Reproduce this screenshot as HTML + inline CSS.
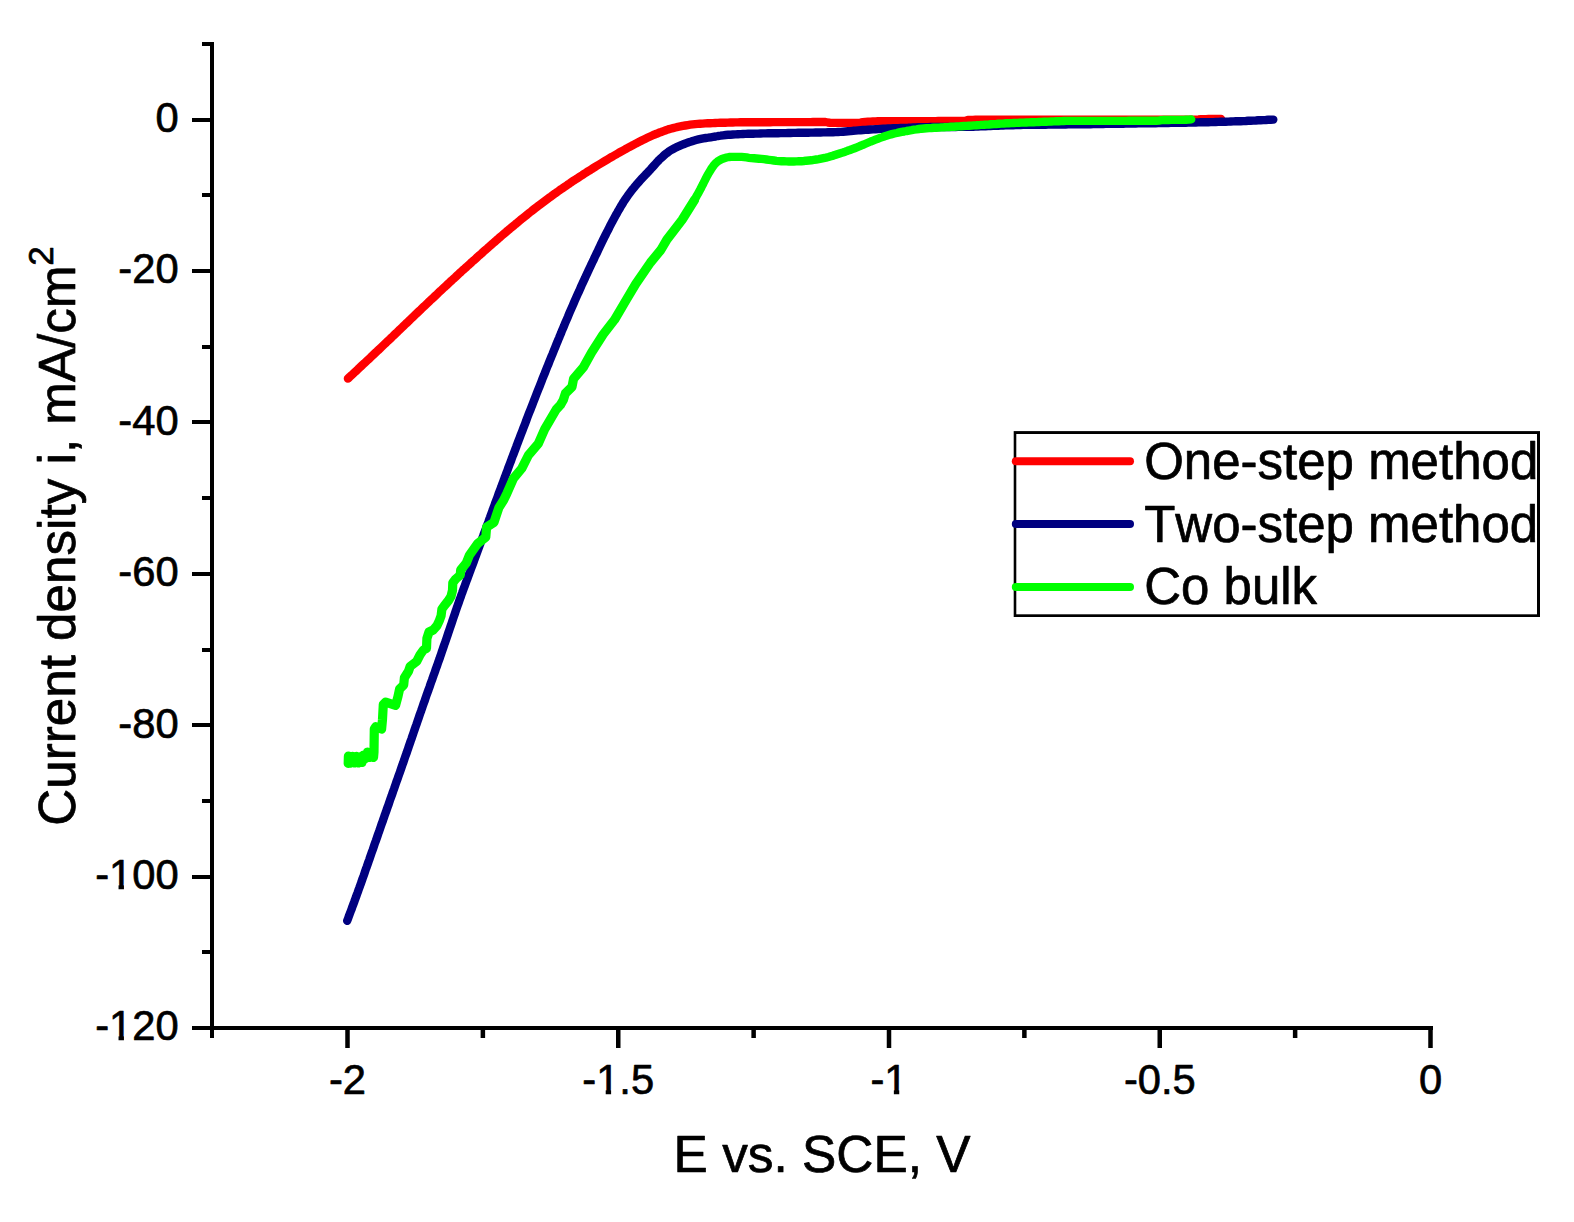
<!DOCTYPE html>
<html><head><meta charset="utf-8"><title>Current density vs. E</title>
<style>
html,body{margin:0;padding:0;background:#fff;}
svg{display:block;}
text{font-family:"Liberation Sans",Arial,sans-serif;fill:#000;font-kerning:none;stroke:#000;stroke-width:0.7px;stroke-linejoin:round;}
.tk{font-size:41.7px;}
.tt{font-size:51.4px;}
.lg{font-size:51px;}
.yt{font-size:51.2px;}
</style></head><body>
<svg width="1574" height="1222" viewBox="0 0 1574 1222">
<rect x="0" y="0" width="1574" height="1222" fill="#ffffff"/>

<g fill="#000" shape-rendering="crispEdges">
<rect x="210" y="42" width="4" height="996"/>
<rect x="192" y="1026" width="1241" height="4"/>
<rect x="202" y="41.9" width="8" height="4"/>
<rect x="192" y="117.6" width="18" height="4"/>
<rect x="202" y="193.3" width="8" height="4"/>
<rect x="192" y="269.0" width="18" height="4"/>
<rect x="202" y="344.7" width="8" height="4"/>
<rect x="192" y="420.4" width="18" height="4"/>
<rect x="202" y="496.1" width="8" height="4"/>
<rect x="192" y="571.8" width="18" height="4"/>
<rect x="202" y="647.5" width="8" height="4"/>
<rect x="192" y="723.2" width="18" height="4"/>
<rect x="202" y="798.9" width="8" height="4"/>
<rect x="192" y="874.6" width="18" height="4"/>
<rect x="202" y="950.3" width="8" height="4"/>
<rect x="345.25" y="1030" width="4.5" height="18" shape-rendering="geometricPrecision"/>
<rect x="480.62" y="1030" width="4.5" height="8" shape-rendering="geometricPrecision"/>
<rect x="616.00" y="1030" width="4.5" height="18" shape-rendering="geometricPrecision"/>
<rect x="751.38" y="1030" width="4.5" height="8" shape-rendering="geometricPrecision"/>
<rect x="886.75" y="1030" width="4.5" height="18" shape-rendering="geometricPrecision"/>
<rect x="1022.12" y="1030" width="4.5" height="8" shape-rendering="geometricPrecision"/>
<rect x="1157.50" y="1030" width="4.5" height="18" shape-rendering="geometricPrecision"/>
<rect x="1292.88" y="1030" width="4.5" height="8" shape-rendering="geometricPrecision"/>
<rect x="1428.25" y="1030" width="4.5" height="18" shape-rendering="geometricPrecision"/>
</g>
<g class="tk">
<text x="178.6" y="132.0" text-anchor="end">0</text>
<text x="178.6" y="283.4" text-anchor="end">-20</text>
<text x="178.6" y="434.8" text-anchor="end">-40</text>
<text x="178.6" y="586.2" text-anchor="end">-60</text>
<text x="178.6" y="737.6" text-anchor="end">-80</text>
<text x="178.6" y="889.0" text-anchor="end">-100</text>
<text x="178.6" y="1040.4" text-anchor="end">-120</text>
<text x="347.5" y="1094.4" text-anchor="middle">-2</text>
<text x="618.2" y="1094.4" text-anchor="middle">-1.5</text>
<text x="889.0" y="1094.4" text-anchor="middle">-1</text>
<text x="1159.8" y="1094.4" text-anchor="middle">-0.5</text>
<text x="1430.5" y="1094.4" text-anchor="middle">0</text>
</g>
<rect x="110.24" y="884.25" width="8.3" height="5.9" fill="#fff"/>
<rect x="123.94" y="884.25" width="8.0" height="5.9" fill="#fff"/>
<rect x="110.24" y="1035.65" width="8.3" height="5.9" fill="#fff"/>
<rect x="123.94" y="1035.65" width="8.0" height="5.9" fill="#fff"/>
<rect x="597.41" y="1089.65" width="8.3" height="5.9" fill="#fff"/>
<rect x="611.11" y="1089.65" width="8.0" height="5.9" fill="#fff"/>
<rect x="885.55" y="1089.65" width="8.3" height="5.9" fill="#fff"/>
<rect x="899.25" y="1089.65" width="8.0" height="5.9" fill="#fff"/>
<text class="tt" x="673.6" y="1171.9">E vs. SCE, V</text>
<text class="yt" transform="translate(74.8 825.8) rotate(-90)">Current density i, mA/cm<tspan font-size="35px" dx="-0.4" dy="-21.6">2</tspan></text>
<g fill="none" stroke-width="8.4" stroke-linecap="round" stroke-linejoin="round">
<path stroke="#ff0000" d="M347.9 378.6 L349.7 376.9 L351.6 375.2 L353.4 373.5 L355.2 371.8 L357.1 370.1 L358.9 368.3 L360.7 366.6 L362.5 364.9 L364.4 363.2 L366.2 361.5 L368.0 359.8 L369.9 358.1 L371.7 356.3 L373.5 354.6 L375.3 352.9 L377.1 351.2 L379.0 349.5 L380.8 347.7 L382.6 346.0 L384.4 344.3 L386.2 342.6 L388.0 340.8 L389.9 339.1 L391.7 337.4 L393.5 335.6 L395.3 333.9 L397.1 332.2 L398.9 330.4 L400.7 328.7 L402.5 327.0 L404.3 325.2 L406.1 323.5 L408.0 321.8 L409.8 320.0 L411.6 318.3 L413.4 316.6 L415.2 314.8 L417.0 313.1 L418.8 311.4 L420.6 309.7 L422.4 307.9 L424.3 306.2 L426.1 304.5 L427.9 302.8 L429.7 301.0 L431.5 299.3 L433.4 297.6 L435.2 295.9 L437.0 294.2 L438.8 292.4 L440.7 290.7 L442.5 289.0 L444.3 287.3 L446.2 285.6 L448.0 283.9 L449.8 282.2 L451.7 280.5 L453.5 278.8 L455.4 277.1 L457.2 275.4 L459.0 273.7 L460.9 272.0 L462.7 270.3 L464.6 268.7 L466.5 267.0 L468.3 265.3 L470.2 263.6 L472.0 261.9 L473.9 260.3 L475.8 258.6 L477.6 256.9 L479.5 255.2 L481.4 253.6 L483.2 251.9 L485.1 250.2 L487.0 248.6 L488.9 246.9 L490.8 245.3 L492.6 243.6 L494.5 242.0 L496.4 240.3 L498.3 238.7 L500.2 237.0 L502.1 235.4 L504.0 233.8 L505.9 232.2 L507.8 230.5 L509.8 228.9 L511.7 227.3 L513.6 225.7 L515.5 224.1 L517.5 222.5 L519.4 220.9 L521.3 219.3 L523.3 217.7 L525.2 216.2 L527.2 214.6 L529.1 213.0 L531.1 211.5 L533.1 209.9 L535.0 208.4 L537.0 206.9 L539.0 205.3 L541.0 203.8 L543.0 202.3 L545.0 200.8 L547.0 199.3 L549.0 197.8 L551.1 196.4 L553.1 194.9 L555.1 193.4 L557.2 192.0 L559.2 190.5 L561.3 189.1 L563.3 187.7 L565.4 186.3 L567.5 184.8 L569.6 183.4 L571.6 182.0 L573.7 180.6 L575.8 179.3 L577.9 177.9 L580.0 176.5 L582.1 175.2 L584.2 173.8 L586.3 172.5 L588.4 171.1 L590.6 169.8 L592.7 168.4 L594.8 167.1 L596.9 165.8 L599.1 164.5 L601.2 163.2 L603.4 161.9 L605.5 160.6 L607.7 159.3 L609.8 158.0 L612.0 156.8 L614.2 155.5 L616.3 154.3 L618.5 153.0 L620.7 151.8 L622.9 150.6 L625.1 149.4 L627.3 148.1 L629.5 146.9 L631.7 145.8 L633.9 144.6 L636.1 143.4 L638.3 142.3 L640.5 141.1 L642.8 140.0 L645.0 138.9 L647.3 137.8 L649.6 136.7 L651.8 135.7 L654.1 134.7 L656.5 133.8 L658.8 132.8 L661.1 132.0 L663.5 131.1 L665.9 130.2 L668.2 129.4 L670.6 128.7 L673.0 128.1 L675.5 127.5 L677.9 126.9 L680.4 126.4 L682.8 125.9 L685.3 125.5 L687.8 125.1 L690.3 124.7 L692.7 124.4 L695.2 124.1 L697.7 123.9 L700.2 123.7 L702.7 123.6 L705.2 123.4 L707.7 123.3 L710.2 123.2 L712.7 123.1 L715.2 123.0 L717.7 122.9 L720.2 122.8 L722.7 122.7 L725.3 122.7 L727.8 122.6 L730.3 122.5 L732.8 122.5 L735.3 122.4 L737.8 122.4 L740.3 122.3 L742.8 122.3 L745.3 122.3 L747.8 122.2 L750.3 122.2 L752.8 122.2 L755.3 122.2 L757.8 122.2 L760.3 122.2 L762.8 122.2 L765.3 122.2 L767.8 122.2 L770.3 122.2 L772.9 122.1 L775.4 122.1 L777.9 122.1 L780.4 122.1 L782.9 122.1 L785.4 122.1 L787.9 122.1 L790.4 122.1 L792.9 122.1 L795.4 122.1 L797.9 122.1 L800.4 122.1 L802.9 122.1 L805.4 122.1 L807.9 122.1 L810.5 122.1 L813.0 122.0 L815.5 122.0 L818.0 122.0 L820.5 122.0 L823.0 122.0 L825.5 122.0 L827.9 122.5 L830.4 122.9 L832.9 122.9 L835.4 122.9 L837.9 122.9 L840.4 122.9 L842.9 122.9 L845.4 122.9 L847.9 122.9 L850.4 122.9 L853.0 122.9 L855.5 122.9 L858.0 122.9 L860.4 122.7 L862.9 122.2 L865.4 121.9 L867.9 121.7 L870.4 121.6 L872.9 121.4 L875.4 121.4 L877.9 121.3 L880.4 121.2 L882.9 121.2 L885.4 121.2 L887.9 121.2 L890.4 121.1 L893.0 121.1 L895.5 121.1 L898.0 121.1 L900.5 121.1 L903.0 121.1 L905.5 121.1 L908.0 121.1 L910.6 121.1 L913.1 121.1 L915.6 121.1 L918.1 121.1 L920.6 121.1 L923.2 121.1 L925.7 121.1 L928.2 121.1 L930.7 121.1 L933.2 121.1 L935.7 121.1 L938.2 121.0 L940.7 121.0 L943.2 121.0 L945.7 121.0 L948.2 121.0 L950.7 121.0 L953.2 121.0 L955.7 121.0 L958.2 121.0 L960.6 120.9 L963.1 120.9 L965.6 120.8 L968.0 120.0 L970.5 119.9 L972.9 119.9 L975.4 119.8 L977.9 119.8 L980.4 119.8 L982.9 119.8 L985.4 119.8 L987.9 119.7 L990.5 119.7 L993.0 119.7 L995.5 119.7 L998.0 119.7 L1000.5 119.7 L1003.0 119.7 L1005.6 119.7 L1008.1 119.7 L1010.6 119.7 L1013.1 119.7 L1015.6 119.7 L1018.1 119.7 L1020.6 119.7 L1023.1 119.7 L1025.6 119.7 L1028.1 119.7 L1030.6 119.7 L1033.1 119.7 L1035.6 119.7 L1038.1 119.7 L1040.6 119.7 L1043.1 119.7 L1045.7 119.7 L1048.2 119.7 L1050.7 119.7 L1053.2 119.6 L1055.7 119.6 L1058.2 119.6 L1060.7 119.6 L1063.2 119.6 L1065.7 119.6 L1068.2 119.6 L1070.7 119.6 L1073.2 119.6 L1075.7 119.6 L1078.2 119.6 L1080.7 119.6 L1083.2 119.6 L1085.7 119.6 L1088.2 119.6 L1090.7 119.6 L1093.3 119.6 L1095.8 119.6 L1098.3 119.6 L1100.8 119.6 L1103.3 119.6 L1105.8 119.6 L1108.3 119.6 L1110.8 119.6 L1113.3 119.6 L1115.8 119.6 L1118.3 119.6 L1120.8 119.6 L1123.3 119.6 L1125.8 119.6 L1128.3 119.6 L1130.8 119.6 L1133.3 119.6 L1135.8 119.6 L1138.3 119.6 L1140.9 119.6 L1143.4 119.6 L1145.9 119.6 L1148.4 119.6 L1150.9 119.6 L1153.4 119.6 L1155.9 119.6 L1158.4 119.6 L1160.9 119.6 L1163.4 119.6 L1165.9 119.6 L1168.4 119.6 L1170.9 119.6 L1173.4 119.6 L1175.9 119.6 L1178.4 119.7 L1181.0 119.7 L1183.5 119.7 L1186.0 119.7 L1188.5 119.7 L1191.0 119.7 L1193.5 119.7 L1196.0 119.7 L1198.5 119.5 L1201.0 119.2 L1203.5 119.1 L1206.0 119.1 L1208.5 119.0 L1211.0 119.0 L1213.5 119.0 L1216.0 119.0 L1218.5 119.0 L1221.0 119.0"/>
<path stroke="#000080" d="M347.2 920.8 L348.1 918.5 L348.9 916.1 L349.8 913.8 L350.7 911.4 L351.6 909.1 L352.4 906.7 L353.3 904.4 L354.2 902.0 L355.0 899.7 L355.9 897.3 L356.7 895.0 L357.6 892.6 L358.4 890.3 L359.3 887.9 L360.1 885.6 L361.0 883.2 L361.8 880.8 L362.6 878.5 L363.5 876.1 L364.3 873.8 L365.1 871.4 L365.9 869.0 L366.8 866.7 L367.6 864.3 L368.4 862.0 L369.3 859.6 L370.1 857.2 L370.9 854.9 L371.7 852.5 L372.6 850.1 L373.4 847.8 L374.2 845.4 L375.0 843.0 L375.9 840.7 L376.7 838.3 L377.5 836.0 L378.3 833.6 L379.2 831.2 L380.0 828.9 L380.8 826.5 L381.6 824.1 L382.5 821.8 L383.3 819.4 L384.1 817.1 L384.9 814.7 L385.8 812.3 L386.6 810.0 L387.4 807.6 L388.3 805.3 L389.1 802.9 L389.9 800.5 L390.7 798.2 L391.6 795.8 L392.4 793.5 L393.2 791.1 L394.1 788.7 L394.9 786.4 L395.7 784.0 L396.5 781.6 L397.4 779.3 L398.2 776.9 L399.0 774.6 L399.9 772.2 L400.7 769.8 L401.5 767.5 L402.3 765.1 L403.2 762.8 L404.0 760.4 L404.8 758.0 L405.6 755.7 L406.5 753.3 L407.3 750.9 L408.1 748.6 L408.9 746.2 L409.7 743.8 L410.5 741.5 L411.4 739.1 L412.2 736.7 L413.0 734.4 L413.8 732.0 L414.6 729.6 L415.4 727.3 L416.3 724.9 L417.1 722.5 L417.9 720.2 L418.7 717.8 L419.5 715.4 L420.3 713.1 L421.2 710.7 L422.0 708.4 L422.8 706.0 L423.6 703.6 L424.5 701.3 L425.3 698.9 L426.1 696.5 L426.9 694.2 L427.8 691.8 L428.6 689.5 L429.5 687.1 L430.3 684.7 L431.1 682.4 L432.0 680.0 L432.8 677.7 L433.6 675.3 L434.5 673.0 L435.3 670.6 L436.1 668.2 L437.0 665.9 L437.8 663.5 L438.6 661.2 L439.5 658.8 L440.3 656.4 L441.1 654.1 L441.9 651.7 L442.7 649.3 L443.5 647.0 L444.3 644.6 L445.2 642.2 L446.0 639.9 L446.8 637.5 L447.6 635.1 L448.4 632.7 L449.2 630.4 L450.0 628.0 L450.8 625.6 L451.6 623.3 L452.4 620.9 L453.2 618.5 L454.0 616.2 L454.8 613.8 L455.6 611.4 L456.4 609.1 L457.2 606.7 L458.1 604.3 L458.9 602.0 L459.7 599.6 L460.6 597.3 L461.4 594.9 L462.3 592.5 L463.1 590.2 L464.0 587.8 L464.9 585.5 L465.7 583.1 L466.6 580.8 L467.5 578.5 L468.3 576.1 L469.2 573.8 L470.1 571.4 L470.9 569.1 L471.8 566.7 L472.7 564.4 L473.6 562.0 L474.4 559.7 L475.3 557.3 L476.2 555.0 L477.0 552.6 L477.9 550.3 L478.8 547.9 L479.6 545.6 L480.5 543.2 L481.3 540.9 L482.2 538.5 L483.1 536.2 L483.9 533.8 L484.8 531.5 L485.7 529.2 L486.5 526.8 L487.4 524.5 L488.3 522.1 L489.1 519.8 L490.0 517.4 L490.8 515.1 L491.7 512.7 L492.6 510.4 L493.4 508.0 L494.3 505.7 L495.2 503.3 L496.0 501.0 L496.9 498.6 L497.8 496.3 L498.6 493.9 L499.5 491.6 L500.4 489.2 L501.3 486.9 L502.1 484.5 L503.0 482.2 L503.9 479.9 L504.7 477.5 L505.6 475.2 L506.5 472.8 L507.4 470.5 L508.2 468.1 L509.1 465.8 L510.0 463.4 L510.9 461.1 L511.7 458.8 L512.6 456.4 L513.5 454.1 L514.4 451.7 L515.3 449.4 L516.2 447.0 L517.0 444.7 L517.9 442.4 L518.8 440.0 L519.7 437.7 L520.6 435.3 L521.5 433.0 L522.4 430.7 L523.3 428.3 L524.2 426.0 L525.1 423.7 L526.0 421.3 L526.8 419.0 L527.7 416.6 L528.6 414.3 L529.5 412.0 L530.5 409.6 L531.4 407.3 L532.3 405.0 L533.2 402.6 L534.1 400.3 L535.0 398.0 L535.9 395.6 L536.8 393.3 L537.7 391.0 L538.6 388.7 L539.6 386.3 L540.5 384.0 L541.4 381.7 L542.3 379.3 L543.2 377.0 L544.2 374.7 L545.1 372.4 L546.0 370.0 L546.9 367.7 L547.9 365.4 L548.8 363.1 L549.7 360.8 L550.7 358.4 L551.6 356.1 L552.6 353.8 L553.5 351.5 L554.4 349.2 L555.4 346.8 L556.3 344.5 L557.3 342.2 L558.2 339.9 L559.2 337.6 L560.1 335.3 L561.1 333.0 L562.0 330.6 L563.0 328.3 L564.0 326.0 L564.9 323.7 L565.9 321.4 L566.9 319.1 L567.9 316.8 L568.8 314.5 L569.8 312.2 L570.8 309.9 L571.8 307.6 L572.8 305.3 L573.8 303.0 L574.8 300.7 L575.8 298.4 L576.8 296.1 L577.8 293.8 L578.9 291.6 L579.9 289.3 L580.9 287.0 L581.9 284.7 L583.0 282.4 L584.0 280.2 L585.1 277.9 L586.1 275.6 L587.2 273.4 L588.2 271.1 L589.3 268.8 L590.4 266.5 L591.4 264.3 L592.5 262.0 L593.6 259.8 L594.6 257.5 L595.7 255.2 L596.8 253.0 L597.9 250.7 L598.9 248.5 L600.0 246.2 L601.1 243.9 L602.2 241.7 L603.3 239.4 L604.4 237.2 L605.5 235.0 L606.6 232.7 L607.8 230.5 L608.9 228.3 L610.0 226.0 L611.2 223.8 L612.4 221.6 L613.5 219.4 L614.7 217.2 L615.9 215.0 L617.2 212.8 L618.4 210.6 L619.7 208.5 L620.9 206.3 L622.2 204.2 L623.5 202.0 L624.9 199.9 L626.3 197.8 L627.7 195.8 L629.2 193.8 L630.7 191.8 L632.2 189.8 L633.8 187.9 L635.4 185.9 L637.0 184.0 L638.7 182.1 L640.3 180.3 L642.0 178.4 L643.7 176.6 L645.4 174.8 L647.2 173.0 L648.9 171.1 L650.6 169.3 L652.3 167.4 L653.9 165.6 L655.6 163.7 L657.3 161.8 L659.0 160.0 L660.8 158.3 L662.7 156.6 L664.5 154.9 L666.5 153.3 L668.5 151.8 L670.5 150.4 L672.7 149.2 L674.9 148.0 L677.2 146.9 L679.5 145.9 L681.8 144.9 L684.1 144.0 L686.4 143.1 L688.8 142.2 L691.2 141.5 L693.6 140.7 L696.0 140.0 L698.4 139.4 L700.8 138.9 L703.3 138.4 L705.8 138.0 L708.2 137.7 L710.7 137.3 L713.2 136.9 L715.7 136.5 L718.1 136.0 L720.6 135.7 L723.1 135.3 L725.6 135.0 L728.1 134.8 L730.5 134.7 L733.0 134.5 L735.5 134.4 L738.0 134.2 L740.5 134.1 L743.0 134.0 L745.5 133.9 L748.1 133.8 L750.6 133.8 L753.1 133.7 L755.6 133.6 L758.1 133.6 L760.6 133.5 L763.1 133.4 L765.6 133.4 L768.1 133.3 L770.6 133.3 L773.1 133.3 L775.6 133.2 L778.1 133.2 L780.6 133.1 L783.1 133.1 L785.6 133.1 L788.1 133.0 L790.6 133.0 L793.1 132.9 L795.6 132.9 L798.1 132.8 L800.6 132.8 L803.1 132.7 L805.6 132.7 L808.1 132.7 L810.6 132.6 L813.1 132.6 L815.6 132.5 L818.1 132.5 L820.6 132.5 L823.1 132.4 L825.6 132.4 L828.1 132.3 L830.6 132.2 L833.1 132.2 L835.6 132.1 L838.1 132.0 L840.6 131.9 L843.1 131.7 L845.6 131.5 L848.1 131.3 L850.6 131.1 L853.1 130.8 L855.6 130.6 L858.1 130.4 L860.6 130.2 L863.1 130.0 L865.6 129.9 L868.1 129.7 L870.6 129.5 L873.1 129.4 L875.6 129.2 L878.1 129.1 L880.6 128.9 L883.1 128.8 L885.6 128.7 L888.1 128.5 L890.6 128.4 L893.1 128.3 L895.6 128.2 L898.1 128.1 L900.6 128.0 L903.1 127.9 L905.6 127.9 L908.1 127.8 L910.6 127.6 L913.1 127.5 L915.6 127.4 L918.1 127.3 L920.6 127.2 L923.1 127.1 L925.6 127.1 L928.1 127.1 L930.6 127.0 L933.1 127.0 L935.6 127.0 L938.1 127.0 L940.6 127.0 L943.1 127.0 L945.6 127.0 L948.1 127.0 L950.6 127.0 L953.1 127.0 L955.6 127.0 L958.1 126.9 L960.6 126.9 L963.1 126.9 L965.6 126.9 L968.1 126.8 L970.6 126.8 L973.1 126.7 L975.6 126.6 L978.1 126.5 L980.6 126.4 L983.1 126.3 L985.6 126.2 L988.1 126.1 L990.6 126.0 L993.1 125.9 L995.6 125.8 L998.1 125.7 L1000.6 125.6 L1003.1 125.5 L1005.6 125.4 L1008.1 125.3 L1010.6 125.3 L1013.1 125.2 L1015.6 125.1 L1018.1 125.0 L1020.6 125.0 L1023.1 124.9 L1025.6 124.9 L1028.1 124.8 L1030.6 124.8 L1033.1 124.8 L1035.6 124.8 L1038.1 124.7 L1040.6 124.7 L1043.1 124.7 L1045.6 124.7 L1048.1 124.6 L1050.6 124.6 L1053.2 124.6 L1055.7 124.6 L1058.2 124.5 L1060.7 124.5 L1063.2 124.5 L1065.7 124.5 L1068.2 124.4 L1070.7 124.4 L1073.2 124.4 L1075.7 124.4 L1078.2 124.3 L1080.7 124.3 L1083.2 124.3 L1085.7 124.2 L1088.2 124.2 L1090.7 124.2 L1093.2 124.1 L1095.7 124.1 L1098.2 124.0 L1100.7 124.0 L1103.2 124.0 L1105.7 123.9 L1108.2 123.9 L1110.7 123.8 L1113.2 123.8 L1115.7 123.8 L1118.2 123.7 L1120.7 123.7 L1123.2 123.7 L1125.7 123.6 L1128.2 123.6 L1130.7 123.6 L1133.2 123.5 L1135.7 123.5 L1138.2 123.4 L1140.7 123.4 L1143.2 123.4 L1145.7 123.3 L1148.2 123.3 L1150.7 123.3 L1153.2 123.2 L1155.7 123.2 L1158.2 123.1 L1160.7 123.1 L1163.3 123.1 L1165.8 123.0 L1168.3 123.0 L1170.8 122.9 L1173.3 122.9 L1175.8 122.8 L1178.3 122.8 L1180.8 122.7 L1183.3 122.7 L1185.8 122.7 L1188.3 122.6 L1190.8 122.6 L1193.3 122.5 L1195.8 122.5 L1198.3 122.4 L1200.8 122.3 L1203.3 122.3 L1205.8 122.2 L1208.3 122.2 L1210.8 122.1 L1213.3 122.1 L1215.8 122.0 L1218.3 121.9 L1220.8 121.8 L1223.3 121.8 L1225.8 121.7 L1228.3 121.6 L1230.8 121.5 L1233.3 121.4 L1235.8 121.3 L1238.3 121.3 L1240.8 121.2 L1243.3 121.1 L1245.8 121.0 L1248.3 120.8 L1250.8 120.7 L1253.3 120.6 L1255.8 120.5 L1258.3 120.3 L1260.8 120.2 L1263.3 120.1 L1265.8 120.0 L1268.3 119.8 L1270.8 119.7 L1273.3 119.6"/>
<path stroke="#00ff00" stroke-width="9.2" d="M348.2 763.4 L348.4 756.2 L350.5 763.2 L352.5 756.4 L354.5 763.0 L356.5 756.4 L358.5 763.0 L360.5 756.6 L362.0 762.5 L363.5 755.0 L365.5 758.5 L367.5 752.2 L369.5 757.5 L371.5 752.5 L373.5 757.5 L374.0 752.0 L374.3 729.1 L375.9 726.6 L381.6 729.1 L382.5 719.3 L383.3 704.5 L385.7 702.1 L395.6 705.4 L398.0 696.4 L399.6 689.0 L403.7 684.9 L404.4 677.8 L408.5 671.3 L410.2 666.3 L416.7 661.4 L420.0 654.9 L423.4 650.0 L426.5 648.4 L426.9 638.5 L429.0 632.0 L433.2 630.0 L436.8 625.9 L439.3 620.8 L441.1 615.7 L441.9 609.1 L444.4 605.6 L448.5 600.5 L451.0 596.4 L452.5 590.3 L452.8 582.7 L455.6 579.1 L460.2 575.1 L460.7 570.0 L466.2 563.2 L469.5 555.1 L477.6 543.6 L485.8 537.1 L486.6 527.2 L494.0 522.3 L498.9 507.6 L503.7 500.0 L507.1 492.9 L513.6 478.2 L521.8 468.4 L528.4 455.3 L538.2 443.8 L544.7 429.1 L556.2 409.5 L560.5 404.9 L563.3 400.0 L565.4 393.4 L572.0 386.9 L573.6 378.7 L583.4 367.3 L591.6 352.5 L603.1 334.5 L614.5 319.8 L626.2 300.0 L635.8 283.8 L650.5 262.5 L660.8 250.0 L666.9 239.6 L682.0 220.0 L694.5 200.0"/>
<path stroke="#00ff00" d="M694.5 200.0 L695.7 197.8 L696.9 195.6 L698.1 193.4 L699.3 191.2 L700.5 189.0 L701.6 186.8 L702.8 184.6 L703.9 182.3 L705.0 180.1 L706.1 177.9 L707.3 175.6 L708.5 173.5 L709.8 171.3 L711.1 169.2 L712.5 167.1 L714.0 165.0 L715.6 163.2 L717.5 161.6 L719.6 160.2 L721.9 159.0 L724.2 158.2 L726.6 157.5 L729.1 157.0 L731.6 156.9 L734.1 156.9 L736.6 156.9 L739.1 156.9 L741.6 156.9 L744.1 157.1 L746.6 157.4 L749.0 157.8 L751.5 158.1 L754.0 158.3 L756.5 158.5 L759.0 158.7 L761.5 158.9 L764.0 159.2 L766.5 159.5 L768.9 159.8 L771.4 160.1 L773.9 160.5 L776.4 160.9 L778.9 161.1 L781.4 161.2 L783.9 161.3 L786.4 161.4 L788.9 161.5 L791.4 161.5 L793.9 161.5 L796.4 161.4 L798.9 161.3 L801.4 161.2 L803.9 161.0 L806.3 160.7 L808.8 160.5 L811.3 160.3 L813.8 159.9 L816.3 159.5 L818.7 159.1 L821.2 158.6 L823.6 158.1 L826.1 157.6 L828.5 157.0 L830.9 156.3 L833.3 155.6 L835.7 154.8 L838.1 154.0 L840.4 153.2 L842.8 152.5 L845.2 151.7 L847.5 150.8 L849.9 150.0 L852.2 149.1 L854.6 148.2 L856.9 147.3 L859.2 146.4 L861.5 145.4 L863.8 144.5 L866.1 143.5 L868.4 142.5 L870.7 141.5 L873.1 140.6 L875.4 139.7 L877.7 138.8 L880.1 137.9 L882.4 137.1 L884.8 136.2 L887.2 135.5 L889.6 134.8 L892.0 134.1 L894.4 133.5 L896.8 133.0 L899.3 132.4 L901.7 131.9 L904.2 131.5 L906.7 131.0 L909.1 130.6 L911.6 130.2 L914.1 129.7 L916.5 129.4 L919.0 129.0 L921.5 128.7 L924.0 128.5 L926.5 128.3 L929.0 128.1 L931.5 128.0 L934.0 127.8 L936.5 127.7 L938.9 127.6 L941.4 127.4 L943.9 127.3 L946.4 127.1 L948.9 127.0 L951.4 126.8 L953.9 126.7 L956.4 126.5 L958.9 126.4 L961.4 126.2 L963.9 126.0 L966.4 125.9 L968.9 125.7 L971.4 125.6 L973.9 125.4 L976.4 125.3 L978.9 125.1 L981.4 124.9 L983.9 124.8 L986.4 124.6 L988.9 124.5 L991.3 124.3 L993.8 124.1 L996.3 124.0 L998.8 123.8 L1001.3 123.6 L1003.8 123.5 L1006.3 123.3 L1008.8 123.2 L1011.3 123.1 L1013.8 123.0 L1016.3 122.9 L1018.8 122.8 L1021.3 122.6 L1023.8 122.6 L1026.3 122.5 L1028.8 122.4 L1031.3 122.3 L1033.8 122.2 L1036.3 122.1 L1038.8 122.0 L1041.3 121.9 L1043.8 121.8 L1046.3 121.7 L1048.8 121.6 L1051.3 121.5 L1053.8 121.4 L1056.3 121.3 L1058.8 121.2 L1061.3 121.1 L1063.8 121.0 L1066.3 120.9 L1068.8 120.9 L1071.3 120.9 L1073.8 120.9 L1076.3 120.9 L1078.8 120.9 L1081.3 120.9 L1083.8 120.9 L1086.3 120.9 L1088.8 120.9 L1091.3 120.9 L1093.8 120.9 L1096.3 120.9 L1098.8 120.9 L1101.3 120.9 L1103.8 120.9 L1106.3 120.9 L1108.8 120.9 L1111.4 120.9 L1113.9 120.9 L1116.4 120.9 L1118.9 120.9 L1121.4 120.9 L1123.9 120.9 L1126.4 120.9 L1128.9 120.8 L1131.4 120.8 L1133.9 120.8 L1136.4 120.8 L1138.9 120.8 L1141.4 120.8 L1143.9 120.8 L1146.3 120.8 L1148.8 120.8 L1151.3 120.8 L1153.8 120.8 L1156.3 120.8 L1158.8 120.6 L1161.2 120.1 L1163.7 120.0 L1166.2 120.0 L1168.7 120.0 L1171.2 119.9 L1173.7 119.9 L1176.2 119.9 L1178.7 119.9 L1181.2 119.9 L1183.7 119.9 L1186.2 119.7 L1188.7 119.6 L1191.2 119.4"/>
</g>
<rect x="1013.7" y="431.1" width="526.3" height="185.9" fill="#000"/>
<rect x="1016.3" y="434" width="520.7" height="180.3" fill="#fff"/>
<g fill="none" stroke-width="8" stroke-linecap="round">
<path stroke="#ff0000" d="M1015.8 461.2 H1130"/>
<path stroke="#000080" d="M1015.8 524.0 H1130"/>
<path stroke="#00ff00" d="M1015.8 587.0 H1130"/>
</g>
<g class="lg">
<text x="1144.2" y="478.8">One-step method</text>
<text x="1144.2" y="541.6">Two-step method</text>
<text x="1144.2" y="604.4">Co bulk</text>
</g>
</svg></body></html>
